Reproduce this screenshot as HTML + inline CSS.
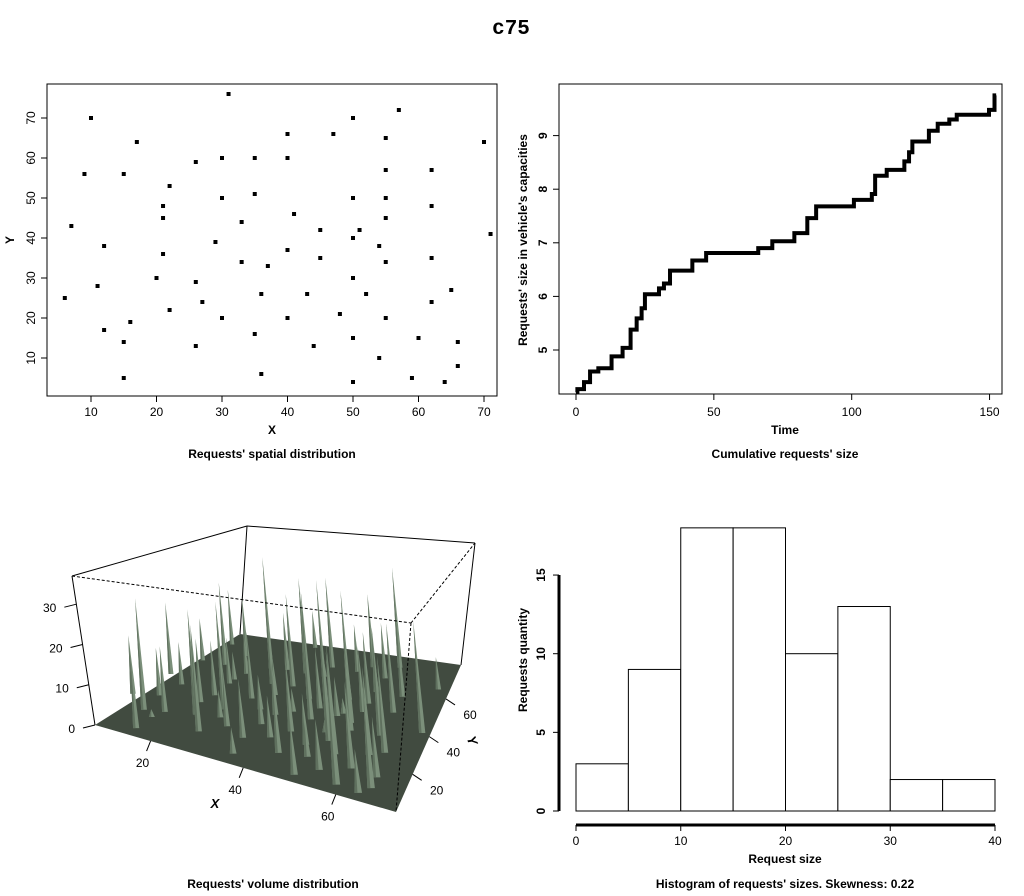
<!DOCTYPE html>
<html><head><meta charset="utf-8"><style>
html,body{margin:0;padding:0;background:#fff;}
svg{display:block;font-family:"Liberation Sans",Arial,sans-serif;}
.b{font-weight:bold;font-size:12px;}
</style></head><body>
<svg id="s" width="1024" height="896" viewBox="0 0 1024 896">
<text x="511" y="34" text-anchor="middle" style="font-family:'Liberation Mono','DejaVu Sans Mono',monospace;font-size:21px;font-weight:bold">c75</text>
<g id="p1"></g>
<g id="p2"></g>
<g id="p3"></g>
<g id="p4"></g>
</svg>
<script>
const px=[31,10,57,50,47,40,55,70,17,9,15,26,30,35,40,55,62,22,35,30,50,55,21,62,21,41,55,33,7,51,45,71,50,29,54,12,40,21,45,55,62,33,37,20,50,26,11,65,43,36,52,6,27,62,22,48,30,40,55,16,12,35,50,60,15,66,26,44,54,66,36,15,59,50,64];
const py=[76,70,72,70,66,66,65,64,64,56,56,59,60,60,60,57,57,53,51,50,50,50,48,48,45,46,45,44,43,42,42,41,40,39,38,38,37,36,35,34,35,34,33,30,30,29,28,27,26,26,26,25,24,24,22,21,20,20,20,19,17,16,15,15,14,14,13,13,10,8,6,5,5,4,4];
const sizes=[12,18,30,22,14,27,16,9,19,13,25,11,17,28,7,15,20,12,26,36,14,19,8,23,13,29,17,11,21,4,16,27,10,18,33,12,6,15,24,19,26,9,14,17,3,28,13,22,18,11,38,16,7,20,27,12,15,10,25,17,29,14,8,19,2,13,26,16,11,21,6,18,28,12,9];
const cumT=[0,0.5,2.9,5.1,8.1,12.9,16.9,19.8,22,23.8,25,30.1,31.9,34.1,42.2,47.2,66.1,71.2,79.2,83.9,87.1,100.8,107.3,108.5,112.7,119.1,120.8,122,128,131.2,135.4,138.1,149.8,151.8];
const cumV=[4.21,4.27,4.4,4.6,4.66,4.88,5.04,5.38,5.59,5.78,6.04,6.15,6.24,6.48,6.67,6.81,6.9,7.03,7.18,7.46,7.68,7.8,7.91,8.25,8.36,8.52,8.69,8.89,9.09,9.22,9.3,9.39,9.48,9.75];
const cumEnd=152.4;
const histBins=[0,5,10,15,20,25,30,35];
const histCounts=[3,9,18,18,10,13,2,2];
const NS="http://www.w3.org/2000/svg";
function mk(p,tag,at,txt){const e=document.createElementNS(NS,tag);for(const k in at)e.setAttribute(k,at[k]);if(txt!==undefined)e.textContent=txt;p.appendChild(e);return e;}
// ---- Panel 1 scatter
const g1=document.getElementById('p1');
const sx=v=>91+(v-10)*6.55, sy=v=>358-(v-10)*4;
let e=mk(g1,'rect',{x:47,y:84,width:450,height:312,fill:'none',stroke:'#000'});

for(let v=10;v<=70;v+=10){
 e=mk(g1,'line',{x1:sx(v),x2:sx(v),y1:396,y2:402,stroke:'#000'});
 
 e=mk(g1,'text',{x:sx(v),y:416,'text-anchor':'middle','font-size':12},String(v));
 
 e=mk(g1,'line',{x1:41,x2:47,y1:sy(v),y2:sy(v),stroke:'#000'});
 
 e=mk(g1,'text',{x:0,y:0,transform:`translate(35,${sy(v)}) rotate(-90)`,'text-anchor':'middle','font-size':12},String(v));
 
}
for(let i=0;i<px.length;i++){e=mk(g1,'rect',{x:sx(px[i])-2,y:sy(py[i])-2,width:4,height:4,fill:'#000'});
 }
e=mk(g1,'text',{x:272,y:434,'text-anchor':'middle',class:'b'},'X');
e=mk(g1,'text',{x:0,y:0,transform:'translate(14,240) rotate(-90)','text-anchor':'middle',class:'b'},'Y');
e=mk(g1,'text',{x:272,y:458,'text-anchor':'middle',class:'b'},"Requests' spatial distribution");
// ---- Panel 2 cumulative
const g2=document.getElementById('p2');
const cx=v=>576+v*2.757, cy=v=>350-(v-5)*53.6;
e=mk(g2,'rect',{x:559,y:84,width:443,height:310,fill:'none',stroke:'#000'});
for(let v=0;v<=150;v+=50){
 e=mk(g2,'line',{x1:cx(v),x2:cx(v),y1:394,y2:400,stroke:'#000'});
 e=mk(g2,'text',{x:cx(v),y:416,'text-anchor':'middle','font-size':12},String(v));}
for(let v=5;v<=9;v++){
 e=mk(g2,'line',{x1:553,x2:559,y1:cy(v),y2:cy(v),stroke:'#000'});
 e=mk(g2,'text',{x:0,y:0,transform:`translate(547,${cy(v)}) rotate(-90)`,'text-anchor':'middle','font-size':12,'font-weight':'bold'},String(v));}
let d=`M${cx(cumT[0])},${cy(cumV[0])}`;
for(let i=1;i<cumT.length;i++){d+=` H${cx(cumT[i])} V${cy(cumV[i])}`;}
d+=` H${cx(cumEnd)}`;
e=mk(g2,'path',{d:d,fill:'none',stroke:'#000','stroke-width':4});
e=mk(g2,'text',{x:785,y:434,'text-anchor':'middle',class:'b'},'Time');
e=mk(g2,'text',{x:0,y:0,transform:'translate(527,240) rotate(-90)','text-anchor':'middle',class:'b'},"Requests' size in vehicle's capacities");
e=mk(g2,'text',{x:785,y:458,'text-anchor':'middle',class:'b'},"Cumulative requests' size");
// ---- Panel 3 3D
const g3=document.getElementById('p3');
const FL=[95,725],FR=[396,812],BR=[461,665],BL=[240,634];
const TFL=[72,576],TFR=[411,623],TBR=[475,543],TBL=[247,526];
const XMIN=8,XMAX=73,YMIN=0,YMAX=78,ZMAX=37;
function bil(A,B,C,D,u,v){const f=(a,b,c,dd)=>a*(1-u)*(1-v)+b*u*(1-v)+c*u*v+dd*(1-u)*v;return [f(A[0],B[0],C[0],D[0]),f(A[1],B[1],C[1],D[1])];}
const base=(x,y)=>bil(FL,FR,BR,BL,(x-XMIN)/(XMAX-XMIN),(y-YMIN)/(YMAX-YMIN));
const top3=(x,y)=>bil(TFL,TFR,TBR,TBL,(x-XMIN)/(XMAX-XMIN),(y-YMIN)/(YMAX-YMIN));
const L=(a,b,extra)=>mk(g3,'line',Object.assign({x1:a[0],y1:a[1],x2:b[0],y2:b[1],stroke:'#000'},extra||{}));
e=L(TFL,TBL);
e=L(TBL,TBR);
e=L(TBL,BL);
e=mk(g3,'polygon',{points:[FL,FR,BR,BL].map(p=>p.join(',')).join(' '),fill:'#414b40'});
const idx=px.map((_,i)=>i).sort((a,b)=>py[b]-py[a]);
for(const i of idx){const b=base(px[i],py[i]),t=top3(px[i],py[i]);const h=(b[1]-t[1])*sizes[i]/ZMAX;
 const w=2+(b[1]-630)/90;
 e=mk(g3,'polygon',{points:`${b[0]-w},${b[1]} ${b[0]+w},${b[1]} ${b[0]-h*0.08},${b[1]-h}`,fill:'#7b8f7a'});
 
 e=mk(g3,'polygon',{points:`${b[0]-w},${b[1]} ${b[0]-w*0.2},${b[1]} ${b[0]-h*0.08},${b[1]-h}`,fill:'#5f705e'});
 }
e=L(TFL,FL);
e=L(TBR,BR);
for(const [a,b] of [[TFL,TFR],[TFR,TBR],[TFR,FR]]){e=L(a,b,{'stroke-dasharray':'3,2'});}
for(const z of [0,10,20,30]){const yy=725-z*(725-576)/ZMAX, xx=95-z*(23)/ZMAX;
 e=mk(g3,'line',{x1:xx-12,x2:xx,y1:yy+3,y2:yy,stroke:'#000'});
 e=mk(g3,'text',{x:xx-20,y:yy+8,'text-anchor':'end','font-size':12},String(z));}
for(const v of [20,40,60]){const b=base(v,YMIN);
 e=mk(g3,'line',{x1:b[0],y1:b[1],x2:b[0]-4,y2:b[1]+10,stroke:'#000'});
 e=mk(g3,'text',{x:b[0]-8,y:b[1]+26,'text-anchor':'middle','font-size':12},String(v));
 const c=base(XMAX,v);
 e=mk(g3,'line',{x1:c[0],y1:c[1],x2:c[0]+9,y2:c[1]+6,stroke:'#000'});
 e=mk(g3,'text',{x:c[0]+24,y:c[1]+20,'text-anchor':'middle','font-size':12},String(v));}
e=mk(g3,'text',{x:215,y:808,'text-anchor':'middle','font-size':13,'font-weight':'bold','font-style':'italic'},'X');
e=mk(g3,'text',{x:0,y:0,transform:'translate(468,742) rotate(70)','text-anchor':'middle','font-size':13,'font-weight':'bold','font-style':'italic'},'Y');
e=mk(g3,'text',{x:273,y:888,'text-anchor':'middle',class:'b'},"Requests' volume distribution");
// ---- Panel 4 histogram
const g4=document.getElementById('p4');
const hx=v=>576+v*10.475, hy=v=>811-v*15.73;
for(let i=0;i<histCounts.length;i++){e=mk(g4,'rect',{x:hx(histBins[i]),y:hy(histCounts[i]),width:hx(histBins[i]+5)-hx(histBins[i]),height:hy(0)-hy(histCounts[i]),fill:'#fff',stroke:'#000'});
 }
e=mk(g4,'line',{x1:hx(0),x2:hx(40),y1:825,y2:825,stroke:'#000','stroke-width':3});
for(let v=0;v<=40;v+=10){e=mk(g4,'line',{x1:hx(v),x2:hx(v),y1:825,y2:831,stroke:'#000'});
 e=mk(g4,'text',{x:hx(v),y:845,'text-anchor':'middle','font-size':12},String(v));}
e=mk(g4,'line',{x1:559,x2:559,y1:hy(0),y2:hy(15),stroke:'#000','stroke-width':3});
for(let v=0;v<=15;v+=5){e=mk(g4,'line',{x1:553,x2:559,y1:hy(v),y2:hy(v),stroke:'#000'});
 e=mk(g4,'text',{x:0,y:0,transform:`translate(545,${hy(v)}) rotate(-90)`,'text-anchor':'middle','font-size':12,'font-weight':'bold'},String(v));}
e=mk(g4,'text',{x:785,y:863,'text-anchor':'middle',class:'b'},'Request size');
e=mk(g4,'text',{x:0,y:0,transform:'translate(527,660) rotate(-90)','text-anchor':'middle',class:'b'},'Requests quantity');
e=mk(g4,'text',{x:785,y:888,'text-anchor':'middle',class:'b'},"Histogram of requests' sizes. Skewness: 0.22");
</script>
</body></html>
